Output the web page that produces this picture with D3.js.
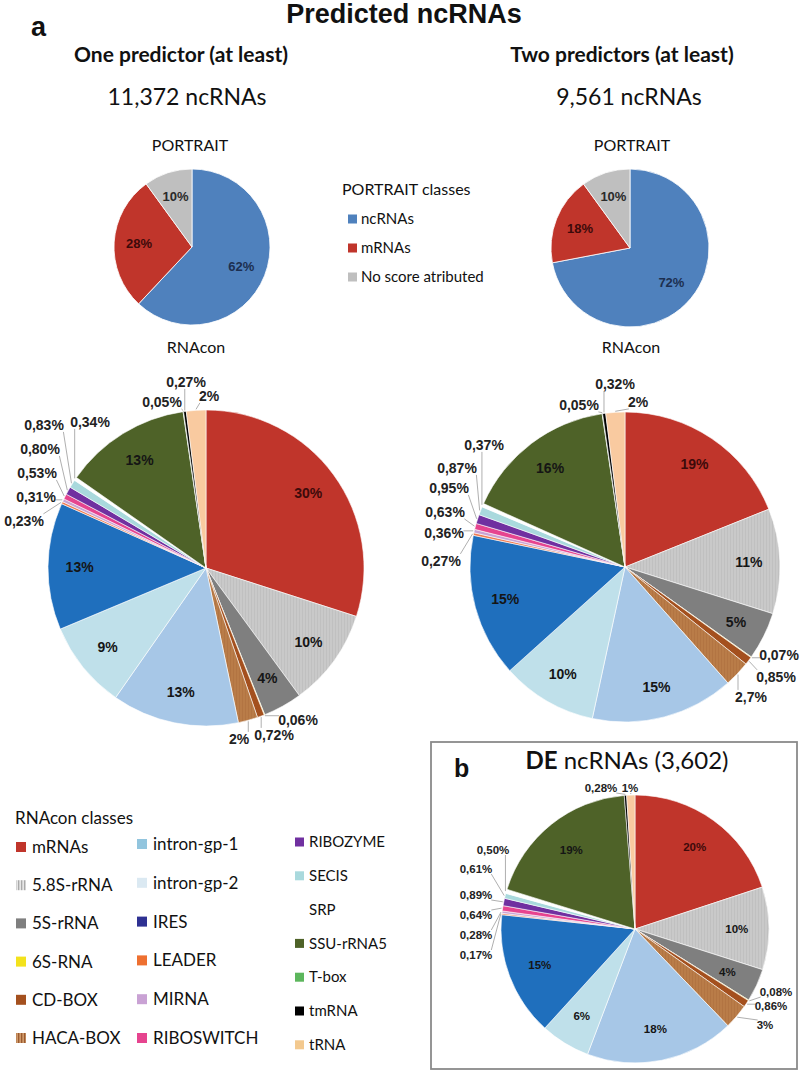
<!DOCTYPE html>
<html><head><meta charset="utf-8">
<script src="https://cdn.jsdelivr.net/npm/d3@7"></script>
<style>body{margin:0;background:#fff}svg{display:block}</style>
</head><body><svg id="c" width="800" height="1072"></svg>
<script>
// ---------------- DATA ----------------
const classes = ["mRNAs","5.8S-rRNA","5S-rRNA","6S-RNA","CD-BOX","HACA-BOX","intron-gp-1","intron-gp-2","IRES","LEADER","MIRNA","RIBOSWITCH","RIBOZYME","SECIS","SRP","SSU-rRNA5","T-box","tmRNA","tRNA"];
const onePredictorValues = [30,10,4,0.06,0.72,2,13,9,13,0.23,0.31,0.53,0.80,0.83,0.34,13,0.05,0.27,2];
const twoPredictorValues = [19,11,5,0.07,0.85,2.7,15,10,15,0.27,0.36,0.63,0.95,0.87,0.37,16,0.05,0.32,2];
const deValues = [20,10,4,0.08,0.86,3,18,6,15,0.17,0.28,0.64,0.89,0.61,0.50,19,0,0.28,1];
const portraitClasses = ["ncRNAs","mRNAs","No score atributed"];
const portraitOne = [62,28,10];
const portraitTwo = [72,18,10];
const totalOne = "11,372";
const totalTwo = "9,561";
const totalDE = "3,602";

// ---------------- STYLE ----------------
const pieColors = ["#c0352b","url(#s58)","#7f7f7f","#f3e21c","#a4501e","url(#shaca)","#a7c7e7","#bfe0ea","#1f6fbd","#f07c52","#c9a2d4","#e6448f","#7030a0","#a9d9dd","#ffffff","#4e6228","#5cb65c","#000000","#f9caa0"];
const legendColors = ["#c0352b","url(#s58l)","#7f7f7f","#f3e21c","#a4501e","url(#shacal)","#92c5de","#dbe9f2","#2e3192","#ee7030","#c9a2d4","#e6448f","#7030a0","#a9d9dd","#ffffff","#4e6228","#5cb65c","#000000","#f3c98f"];
const portraitColors = ["#4f81bd","#c0352b","#bfbfbf"];
// callout label centres, relative to pie centre (px)
const callouts1 = {"6S-RNA":[92,152],"CD-BOX":[68,167],"HACA-BOX":[33,171],"LEADER":[-182,-47],"MIRNA":[-170,-71],"RIBOSWITCH":[-169,-95],"RIBOZYME":[-166,-119],"SECIS":[-162,-143],"SRP":[-116,-146],"T-box":[-44,-166],"tmRNA":[-20,-186],"tRNA":[3,-172]};
const callouts2 = {"6S-RNA":[154,88],"CD-BOX":[151,110],"HACA-BOX":[126,130],"LEADER":[-184,-6],"MIRNA":[-181,-34],"RIBOSWITCH":[-180,-55],"RIBOZYME":[-176,-79],"SECIS":[-168,-99],"SRP":[-141,-122],"T-box":[-46,-162],"tmRNA":[-10,-183],"tRNA":[13,-165]};
const calloutsDE = {"6S-RNA":[141,63],"CD-BOX":[136,77],"HACA-BOX":[130,96],"LEADER":[-159,26],"MIRNA":[-159,6],"RIBOSWITCH":[-159,-14],"RIBOZYME":[-159,-34],"SECIS":[-159,-60],"SRP":[-142,-79],"tmRNA":[-34,-141],"tRNA":[-5,-141]};

const SANS = "Lato, 'Open Sans', sans-serif";
const ARIAL = "'Liberation Sans', Arial, sans-serif";

const svg = d3.select("#c");
const defs = svg.append("defs");
function stripe(id, bg, fg, w){
  const p = defs.append("pattern").attr("id",id).attr("patternUnits","userSpaceOnUse").attr("width",3).attr("height",3);
  p.append("rect").attr("width",3).attr("height",3).attr("fill",bg);
  p.append("rect").attr("width",w).attr("height",3).attr("fill",fg);
}
stripe("s58","#c9c9c9","#c0c0c0",1);
stripe("shaca","#b97c48","#b27442",1);
stripe("s58l","#e6e6e6","#a9a9a9",1.3);
stripe("shacal","#cf9a6a","#9a5a30",1.3);

function fmt(v){
  let s = v < 1 ? v.toFixed(2) : (Number.isInteger(v) ? v.toFixed(0) : v.toFixed(1));
  return s.replace(".", ",") + "%";
}

function drawPie(cx, cy, r, values, names, colors, opt){
  const g = svg.append("g").attr("transform",`translate(${cx},${cy})`);
  const pie = d3.pie().sort(null).value(d=>d.v);
  const arcs = pie(values.map((v,i)=>({v, name:names[i], i})));
  const arc = d3.arc().innerRadius(0).outerRadius(r);
  g.selectAll("path").data(arcs.filter(d=>d.data.v>0)).join("path")
    .attr("d",arc).attr("fill",d=>colors[d.data.i])
    .attr("stroke","#fff").attr("stroke-width",opt.strokeW);
  const inner = d3.arc().innerRadius(r*opt.labelK).outerRadius(r*opt.labelK);
  const edge = d3.arc().innerRadius(r+1).outerRadius(r+1);
  arcs.forEach(d=>{
    if(d.data.v<=0) return;
    const txt = fmt(d.data.v);
    const co = opt.callouts && opt.callouts[d.data.name];
    if(co){
      const t = g.append("text").attr("x",co[0]).attr("y",co[1]).attr("dy","0.35em")
        .attr("text-anchor","middle").attr("font-family",ARIAL).attr("font-weight","bold")
        .attr("font-size",opt.fs).attr("fill","#222").text(txt);
      const bb = t.node().getBBox();
      const e = edge.centroid(d);
      const px = Math.max(bb.x+1, Math.min(bb.x+bb.width-1, e[0]));
      const py = Math.max(bb.y+1, Math.min(bb.y+bb.height-1, e[1]));
      g.insert("line","text").attr("x1",e[0]).attr("y1",e[1]).attr("x2",px).attr("y2",py)
        .attr("stroke","#a6a6a6").attr("stroke-width",0.9);
    } else {
      const c = inner.centroid(d);
      g.append("text").attr("x",c[0]).attr("y",c[1]).attr("dy","0.35em")
        .attr("text-anchor","middle").attr("font-family",ARIAL).attr("font-weight","bold")
        .attr("font-size",opt.fs).attr("fill", d.data.i===0 ? "#3d0a0a" : "#151515").text(txt);
    }
  });
}

function drawPortrait(cx, cy, r, values){
  const g = svg.append("g").attr("transform",`translate(${cx},${cy})`);
  const arcs = d3.pie().sort(null)(values);
  const arc = d3.arc().innerRadius(0).outerRadius(r);
  g.selectAll("path").data(arcs).join("path").attr("d",arc)
    .attr("fill",(d,i)=>portraitColors[i]).attr("stroke","#fff").attr("stroke-width",0.8);
  const inner = d3.arc().innerRadius(r*0.68).outerRadius(r*0.68);
  const tc = ["#1c2f50","#3d0a0a","#2a2a2a"];
  arcs.forEach((d,i)=>{
    const c = inner.centroid(d);
    g.append("text").attr("x",c[0]).attr("y",c[1]).attr("dy","0.35em").attr("text-anchor","middle")
      .attr("font-family","'Liberation Sans Narrow', "+ARIAL).attr("font-weight","bold").attr("font-size",13)
      .attr("fill",tc[i]).text(d.data + "%");
  });
}

function txt(x,y,s,size,opts={}){
  return svg.append("text").attr("x",x).attr("y",y).attr("font-size",size)
    .attr("font-family",opts.family||SANS).attr("font-weight",opts.weight||"normal")
    .attr("text-anchor",opts.anchor||"middle").attr("fill",opts.fill||"#111").text(s);
}

// ---------------- TITLES ----------------
txt(404,23,"Predicted ncRNAs",27,{family:"'Liberation Sans Narrow', "+ARIAL,weight:"bold"});
txt(31,36,"a",27,{family:ARIAL,weight:"bold",anchor:"start"});
txt(181,62,"One predictor (at least)",21,{weight:"bold"});
txt(622,62,"Two predictors (at least)",21,{weight:"bold"});
txt(187,105,totalOne+" ncRNAs",23);
txt(629,105,totalTwo+" ncRNAs",23);
txt(190,151,"PORTRAIT",16);
txt(632,151,"PORTRAIT",16);
txt(196,353,"RNAcon",16);
txt(631,353,"RNAcon",16);

// ---------------- PORTRAIT PIES ----------------
drawPortrait(192,247,78,portraitOne);
drawPortrait(630,248,79,portraitTwo);

// PORTRAIT legend
txt(342,195,"PORTRAIT classes",16,{anchor:"start"});
portraitClasses.forEach((c,i)=>{
  const y = 219 + i*29;
  svg.append("rect").attr("x",348).attr("y",y-4.5).attr("width",9).attr("height",9).attr("fill",portraitColors[i]);
  txt(361,y,c,15,{anchor:"start"}).attr("dy","0.35em");
});

// ---------------- RNAcon PIES ----------------
drawPie(206,568,158,onePredictorValues,classes,pieColors,{labelK:0.8,fs:14,strokeW:0.6,callouts:callouts1});
drawPie(625,567,155,twoPredictorValues,classes,pieColors,{labelK:0.8,fs:14,strokeW:0.6,callouts:callouts2});

// ---------------- PANEL b ----------------
svg.append("rect").attr("x",431).attr("y",742).attr("width",366).attr("height",327)
  .attr("fill","none").attr("stroke","#8a8a8a").attr("stroke-width",1.8);
txt(454,777,"b",25,{family:ARIAL,weight:"bold",anchor:"start"});
const deT = txt(627,769,"",24);
deT.append("tspan").attr("font-weight","bold").text("DE");
deT.append("tspan").text(" ncRNAs ("+totalDE+")");
drawPie(635,929,134,deValues,classes,pieColors,{labelK:0.76,fs:11.5,strokeW:0.6,callouts:calloutsDE});

// ---------------- RNAcon legend ----------------
txt(15,824,"RNAcon classes",17,{anchor:"start"});
const legendCols = [
  {items:classes.slice(0,6), x:16, tx:32, y0:847, step:38.2, fs:17, sq:10},
  {items:classes.slice(6,12), x:137, tx:153, y0:844, step:38.8, fs:17, sq:10},
  {items:classes.slice(12), x:295, tx:309, y0:842, step:33.8, fs:15, sq:9}
];
legendCols.forEach(col=>{
  col.items.forEach((name,j)=>{
    const i = classes.indexOf(name);
    const y = col.y0 + j*col.step;
    svg.append("rect").attr("x",col.x).attr("y",y-col.sq/2).attr("width",col.sq).attr("height",col.sq).attr("fill",legendColors[i]);
    txt(col.tx,y,name,col.fs,{anchor:"start"}).attr("dy","0.35em");
  });
});
</script></body></html>
